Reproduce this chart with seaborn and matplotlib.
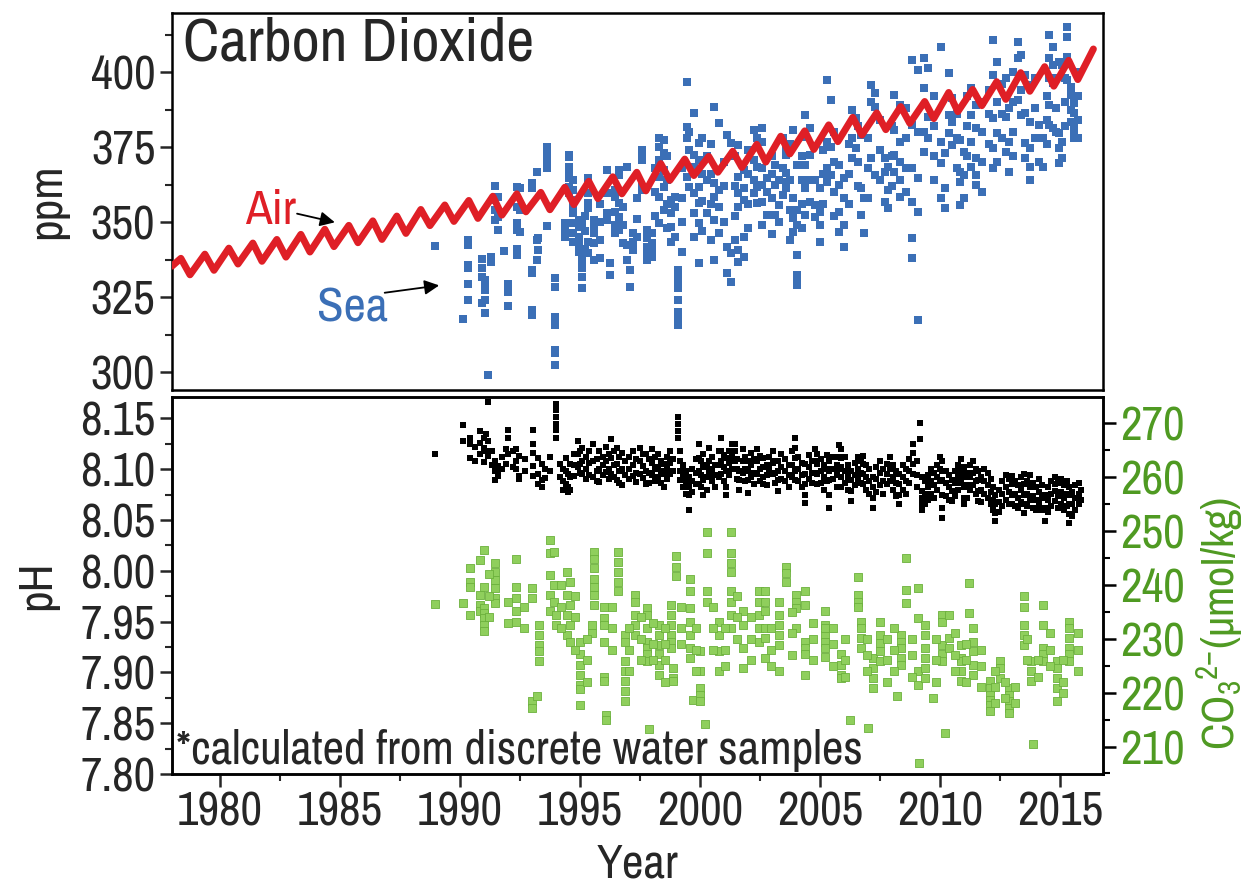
import numpy as np
import pandas as pd
import matplotlib
matplotlib.use("Agg")
import matplotlib.pyplot as plt
import seaborn as sns
from matplotlib import font_manager
from matplotlib.ticker import MultipleLocator, FormatStrFormatter

# --- Air CO2 (Mauna Loa style seasonal cycle): start, yearly May peak / Sep trough, end
air_start = (1978.0, 335.3)
air_years = list(range(1978, 2016))
air_peak = [337.9, 339.3, 341.3, 343.0, 344.2, 345.9, 347.6, 348.9, 350.4, 352.0,
            354.2, 355.7, 357.2, 358.6, 359.4, 359.9, 361.6, 363.6, 365.1, 366.6,
            369.5, 371.0, 371.9, 373.6, 375.9, 378.6, 380.4, 382.4, 384.9, 386.4,
            388.5, 390.2, 393.2, 394.2, 396.8, 399.8, 401.8, 403.9]
air_trough = [332.4, 333.9, 336.0, 336.9, 338.3, 340.0, 341.8, 343.1, 344.2, 346.2,
              348.8, 350.2, 351.2, 352.3, 353.4, 354.1, 355.8, 357.8, 359.4, 360.4,
              363.9, 365.5, 366.6, 368.2, 370.0, 372.7, 374.2, 376.8, 379.0, 380.8,
              382.9, 384.5, 386.8, 388.8, 390.9, 393.6, 395.3, 397.5]
air_end = (2016.4, 407.7)

# --- Sea surface pCO2 (ppm), grouped by cruise time
sea_time = [1988.96, 1990.14, 1990.35, 1990.90, 1991.05, 1991.18, 1991.28, 1991.45, 1991.60, 1991.83,
            1992.00, 1992.36, 1992.50, 1992.99, 1993.20, 1993.26, 1993.61, 1993.95, 1994.38, 1994.55,
            1994.70, 1994.95, 1995.07, 1995.35, 1995.60, 1996.11, 1996.25, 1996.45, 1996.62, 1996.95,
            1997.08, 1997.20, 1997.57, 1997.80, 1998.00, 1998.30, 1998.50, 1998.80, 1998.95, 1999.07,
            1999.45, 1999.55, 1999.75, 1999.95, 2000.60, 2000.80, 2001.15, 2001.30, 2001.60, 2001.85,
            2002.25, 2002.40, 2002.60, 2002.80, 2003.15, 2003.30, 2003.60, 2003.90, 2004.05, 2004.40,
            2004.60, 2004.80, 2005.00, 2005.30, 2005.45, 2005.80, 2006.00, 2006.35, 2006.50, 2006.70,
            2006.85, 2007.15, 2007.30, 2007.70, 2007.85, 2008.10, 2008.35, 2008.85, 2009.10, 2009.35,
            2009.50, 2010.05, 2010.20, 2010.40, 2010.50, 2010.85, 2011.00, 2011.30, 2011.50, 2012.20,
            2012.40, 2012.75, 2012.90, 2013.25, 2013.40, 2013.55, 2013.75, 2014.15, 2014.30, 2014.55,
            2014.70, 2014.95, 2015.10, 2015.30, 2015.45, 2015.60,
            1995.20, 1995.85, 1996.80, 1997.40, 1998.15, 1998.65, 1999.25, 2000.10, 2000.30, 2000.45,
            2001.00, 2001.45, 2002.00, 2003.00, 2003.45, 2003.75, 2004.25, 2005.15, 2005.60, 2006.20,
            2006.60, 2007.00, 2007.50, 2008.00, 2008.60, 2009.75, 2010.70, 2011.15, 2011.75, 2012.05,
            2012.60, 2013.05, 2013.95, 2014.45, 2014.85, 2015.20, 2015.75]
sea_ppm = [[342.1], [317.6], [344.0, 342.3, 335.7, 334.6, 329.3, 324.0], [337.6, 334.6, 331.8, 322.9],
           [330.7, 327.9, 327.3, 324.0, 319.6], [299.0], [338.4, 336.8], [362.0, 357.3, 354.0, 350.7],
           [358.4, 351.8, 347.3], [340.4],
           [329.3, 326.8, 322.0], [361.8, 355.1, 349.8, 347.3, 340.9, 339.0], [361.2, 354.0, 346.8],
           [362.9, 361.2, 334.0, 332.9, 320.7, 319.0], [366.8, 344.0, 337.3], [344.6, 340.7],
           [374.9, 372.3, 369.6, 367.9, 348.7], [331.2, 328.4, 318.4, 315.7, 307.3, 306.2, 302.3],
           [349.6, 347.3, 345.1], [372.3, 371.8, 368.4, 367.3, 364.6, 361.8, 359.6],
           [364.0, 360.7, 357.3, 355.1, 352.9, 349.6, 346.2, 343.4], [350.7, 348.4, 345.1, 342.3, 340.1],
           [349.6, 338.4, 336.2, 334.6, 331.8, 327.9], [364.6, 359.6, 356.2, 354.6, 343.4, 339.6],
           [350.7, 348.4, 346.2, 342.9, 337.3], [367.3, 359.6, 352.9, 350.7], [336.2, 332.3],
           [360.7, 358.4, 353.4, 349.0, 346.2], [367.3, 365.7, 356.2, 351.8, 348.4, 347.3],
           [368.4, 342.3, 337.3],
           [334.0, 328.4], [346.2, 343.4, 340.7], [374.0, 372.3, 370.7, 361.8, 360.7],
           [347.3, 344.6, 341.8, 339.6, 337.3], [346.2, 342.9, 340.7, 338.4],
           [377.9, 375.1, 370.7, 365.1, 358.4, 349.6], [377.3, 372.9, 367.3, 361.8, 354.0],
           [357.3, 352.9, 348.4, 343.4], [358.4, 355.1, 345.1],
           [334.0, 331.8, 329.6, 327.9, 324.0, 320.1, 317.9, 315.7],
           [396.8, 381.8, 377.9, 365.1], [380.1, 374.0, 361.8], [386.2, 372.3, 368.4, 359.6, 352.9, 345.1],
           [376.2, 370.7, 361.8, 356.2, 349.6, 336.2], [388.4, 362.9, 358.4, 350.7, 337.3],
           [382.9, 360.7, 355.1, 346.2], [379.0, 341.8, 332.9], [376.2, 339.6, 330.1],
           [375.7, 365.1, 359.6, 355.1, 340.7, 336.8], [367.3, 361.2, 357.3, 345.1, 338.4],
           [380.7, 370.7, 364.0, 359.6], [377.9, 368.4, 361.8, 356.2],
           [381.2, 376.8, 367.9, 362.3, 356.8, 349.0], [364.6, 360.1, 352.3], [369.0, 362.3, 352.3],
           [364.0, 355.7, 350.1], [374.6, 372.3, 366.2, 363.4, 361.2], [380.7, 357.9, 351.2, 346.8],
           [369.0, 354.0, 349.0, 339.0, 332.3, 330.1, 329.0], [385.7, 378.4, 369.0, 361.2, 352.3],
           [381.2, 372.3, 364.0, 356.8], [364.0, 355.7, 351.8], [361.2, 353.4, 349.0, 343.4],
           [397.3, 376.8, 367.9, 363.4], [390.7, 375.1, 365.7], [369.0, 362.3, 353.4, 346.8],
           [364.6, 357.9, 349.0, 341.8], [387.3, 377.9, 371.2], [384.6, 374.6], [379.0, 361.2, 352.3],
           [357.9, 346.2], [395.7, 390.1, 371.2], [392.9, 388.4, 365.7], [371.2, 366.8, 356.8],
           [368.4, 360.7, 354.6], [392.3, 380.7, 372.3, 366.8], [389.0, 376.8, 370.1, 364.0, 358.4],
           [404.0, 382.3, 367.9, 356.8, 344.6, 337.9], [400.7, 380.1, 364.6, 353.4, 317.3],
           [404.6, 394.6, 380.1, 373.4],
           [401.2, 385.1, 377.9], [408.4, 376.8, 369.6, 357.9], [372.9, 361.2, 354.6],
           [399.6, 385.7, 379.6], [391.2, 383.4, 375.7], [377.3, 366.8, 363.4, 355.7],
           [373.4, 365.7, 357.9], [394.6, 385.7, 376.8, 368.4], [389.0, 381.2, 371.2, 365.7, 362.3],
           [410.7, 399.0, 384.6, 374.6, 367.9],
           [403.4, 390.1, 379.6, 370.1], [397.9, 385.1, 373.4], [387.9, 376.8, 366.8],
           [410.1, 404.6, 390.7], [405.7, 394.0, 385.7], [399.0, 386.2, 376.2, 371.2],
           [395.7, 383.4, 374.6, 368.4, 364.0], [382.3, 370.1], [377.9, 368.4],
           [412.3, 404.6, 397.9, 389.0, 382.3],
           [408.4, 402.3, 396.2, 381.2], [403.4, 379.6, 374.6, 369.6], [402.3, 376.8, 371.2],
           [415.1, 411.8, 405.1, 397.3], [395.1, 392.3, 387.3, 383.4],
           [389.6, 386.2, 381.2, 379.0, 377.9],
           [352.0, 347.0, 341.0], [356.0, 350.0, 344.0, 338.0], [355.0, 349.0, 343.0],
           [358.0, 351.0, 345.0], [368.0, 360.0, 352.0], [372.0, 364.0, 356.0, 348.0],
           [368.0, 358.0, 350.0, 340.0], [378.0, 366.0, 357.0, 347.0], [372.0, 364.0, 353.0],
           [376.0, 366.0, 356.0, 344.0],
           [370.0, 362.0, 350.0], [372.0, 362.0, 352.0, 344.0], [374.0, 366.0, 356.0, 348.0],
           [372.0, 366.0, 358.0, 346.0], [378.0, 368.0, 359.0], [376.0, 364.0, 354.0, 344.0],
           [372.0, 364.0, 356.0, 348.0], [374.0, 366.0, 356.0], [380.0, 370.0, 360.0, 352.0],
           [376.0, 366.0, 356.0],
           [382.0, 370.0, 362.0], [378.0, 368.0, 358.0], [384.0, 374.0, 364.0], [382.0, 372.0, 362.0],
           [388.0, 378.0, 368.0, 360.0], [392.0, 382.0, 372.0, 364.0], [386.0, 378.0, 368.0],
           [392.0, 382.0, 372.0], [390.0, 380.0, 370.0, 360.0], [394.0, 386.0, 376.0],
           [396.0, 386.0, 378.0], [400.0, 390.0, 380.0, 372.0], [398.0, 388.0, 378.0],
           [392.0, 384.0, 376.0], [398.0, 388.0, 380.0], [398.0, 390.0, 382.0],
           [400.0, 392.0, 384.0, 378.0]]

# --- Seawater pH, grouped by cruise time
ph_time = [1988.96, 1990.14, 1990.40, 1990.62, 1990.85, 1991.00, 1991.10, 1991.18, 1991.32, 1991.45,
           1991.60, 1991.75, 1991.90, 1992.00, 1992.20, 1992.35, 1992.45, 1992.70, 1993.05, 1993.25,
           1993.40, 1993.55, 1993.75, 1994.00, 1994.15, 1994.30, 1994.40, 1994.50, 1994.60, 1994.75,
           1994.90, 1995.00, 1995.10, 1995.25, 1995.40, 1995.55, 1995.70, 1995.80, 1995.95, 1996.10,
           1996.20, 1996.30, 1996.42, 1996.55, 1996.65, 1996.75, 1996.90, 1997.05, 1997.20, 1997.35,
           1997.50, 1997.62, 1997.75, 1997.88, 1998.00, 1998.12, 1998.25, 1998.38, 1998.50, 1998.62,
           1998.75, 1998.88, 1999.10, 1999.18, 1999.30, 1999.42, 1999.55, 1999.68, 1999.82, 1999.95,
           2000.05, 2000.15, 2000.28, 2000.40, 2000.52, 2000.65, 2000.78, 2000.90, 2001.00, 2001.10,
           2001.22, 2001.35, 2001.45, 2001.55, 2001.65, 2001.78, 2001.90, 2002.00, 2002.12, 2002.25,
           2002.38, 2002.50, 2002.65, 2002.78, 2002.90, 2003.05, 2003.15, 2003.25, 2003.40, 2003.55,
           2003.70, 2003.85, 2003.95, 2004.10, 2004.25, 2004.40, 2004.55, 2004.68, 2004.80, 2004.90,
           2005.05, 2005.18, 2005.30, 2005.40, 2005.55, 2005.70, 2005.80, 2005.90, 2006.05, 2006.18,
           2006.30, 2006.45, 2006.58, 2006.70, 2006.80, 2006.92, 2007.05, 2007.20, 2007.35, 2007.50,
           2007.65, 2007.80, 2007.92, 2008.05, 2008.18, 2008.30, 2008.45, 2008.58, 2008.72, 2008.90,
           2009.05, 2009.17, 2009.25, 2009.38, 2009.50, 2009.62, 2009.75, 2009.88, 2010.00, 2010.10,
           2010.25, 2010.38, 2010.50, 2010.62, 2010.75, 2010.88, 2011.00, 2011.12, 2011.25, 2011.38,
           2011.50, 2011.60, 2011.72, 2011.85, 2012.00, 2012.12, 2012.22, 2012.30, 2012.45, 2012.60,
           2012.75, 2012.88, 2013.00, 2013.12, 2013.25, 2013.38, 2013.50, 2013.62, 2013.75, 2013.88,
           2014.00, 2014.12, 2014.25, 2014.40, 2014.52, 2014.65, 2014.80, 2014.92, 2015.05, 2015.18,
           2015.30, 2015.40, 2015.52, 2015.65, 2015.78, 2015.90]
ph_val = [[8.115], [8.143, 8.128], [8.131, 8.125, 8.111], [8.122, 8.108], [8.138, 8.126, 8.115],
          [8.131, 8.121, 8.107], [8.135, 8.118], [8.166, 8.128, 8.113], [8.118, 8.104],
          [8.108, 8.098, 8.089],
          [8.103, 8.093, 8.097], [8.112, 8.100], [8.120, 8.105], [8.139, 8.131, 8.115], [8.118, 8.102],
          [8.120, 8.108, 8.100], [8.113, 8.093, 8.090], [8.110, 8.098],
          [8.139, 8.125, 8.116, 8.103, 8.093], [8.111, 8.095, 8.085],
          [8.105, 8.089, 8.082], [8.100, 8.091], [8.112, 8.098],
          [8.164, 8.158, 8.151, 8.144, 8.139, 8.131], [8.105, 8.092], [8.100, 8.088, 8.080],
          [8.111, 8.098, 8.085], [8.095, 8.082, 8.078], [8.105, 8.092, 8.080], [8.115, 8.104, 8.093],
          [8.128, 8.115, 8.102], [8.118, 8.105, 8.096], [8.121, 8.108, 8.095], [8.112, 8.100, 8.090],
          [8.118, 8.106, 8.094], [8.125, 8.108, 8.092], [8.110, 8.098, 8.088], [8.118, 8.100, 8.087],
          [8.112, 8.104, 8.094], [8.122, 8.108, 8.097],
          [8.115, 8.100, 8.090], [8.130, 8.111, 8.095], [8.118, 8.104, 8.092], [8.121, 8.105, 8.089],
          [8.112, 8.098, 8.086], [8.116, 8.100, 8.084], [8.108, 8.094], [8.112, 8.100, 8.090],
          [8.118, 8.104, 8.093], [8.110, 8.096, 8.087],
          [8.121, 8.108, 8.095], [8.115, 8.103, 8.091], [8.115, 8.098, 8.085], [8.110, 8.096, 8.086],
          [8.120, 8.106, 8.094], [8.112, 8.100, 8.088], [8.115, 8.102, 8.092], [8.108, 8.098, 8.086],
          [8.105, 8.095, 8.082], [8.112, 8.100, 8.090],
          [8.118, 8.106, 8.095], [8.110, 8.098], [8.151, 8.144, 8.138, 8.131],
          [8.118, 8.108, 8.098, 8.089], [8.104, 8.092, 8.082], [8.098, 8.086, 8.076],
          [8.092, 8.082, 8.075, 8.060], [8.100, 8.088, 8.078], [8.110, 8.096, 8.085],
          [8.125, 8.111, 8.098, 8.085],
          [8.108, 8.094, 8.082], [8.115, 8.102, 8.089, 8.075], [8.104, 8.092, 8.080],
          [8.121, 8.108, 8.098, 8.092], [8.112, 8.100, 8.088], [8.104, 8.094, 8.082],
          [8.118, 8.104, 8.092], [8.131, 8.118, 8.108, 8.095], [8.114, 8.102, 8.088],
          [8.111, 8.098, 8.082, 8.075],
          [8.118, 8.106, 8.094], [8.125, 8.112, 8.100], [8.125, 8.118, 8.108], [8.110, 8.100, 8.090],
          [8.098, 8.089, 8.080], [8.120, 8.108, 8.096], [8.112, 8.100, 8.088],
          [8.108, 8.098, 8.089, 8.077], [8.116, 8.104, 8.092], [8.110, 8.096, 8.085],
          [8.120, 8.108, 8.095], [8.113, 8.100, 8.088], [8.111, 8.102, 8.092, 8.085],
          [8.104, 8.094, 8.084], [8.112, 8.100], [8.118, 8.106, 8.095], [8.108, 8.096, 8.086],
          [8.108, 8.098, 8.089, 8.079], [8.115, 8.102, 8.090], [8.110, 8.098, 8.088],
          [8.104, 8.094, 8.082], [8.118, 8.104, 8.092], [8.131, 8.121, 8.111, 8.098, 8.089],
          [8.112, 8.100, 8.088], [8.106, 8.094, 8.082], [8.105, 8.095, 8.085, 8.075, 8.067],
          [8.114, 8.102, 8.090], [8.108, 8.096, 8.086], [8.120, 8.108, 8.096],
          [8.115, 8.105, 8.095, 8.085],
          [8.110, 8.098, 8.086], [8.104, 8.092, 8.080], [8.114, 8.100, 8.088],
          [8.108, 8.098, 8.089, 8.075, 8.062], [8.112, 8.100, 8.090], [8.104, 8.094, 8.082],
          [8.124, 8.112, 8.100], [8.120, 8.111, 8.102, 8.092, 8.082], [8.112, 8.098, 8.086],
          [8.104, 8.092, 8.080],
          [8.098, 8.089, 8.079, 8.069], [8.106, 8.094, 8.084], [8.112, 8.100, 8.090],
          [8.108, 8.096, 8.086], [8.113, 8.105, 8.095, 8.085], [8.104, 8.092, 8.080],
          [8.100, 8.088, 8.076], [8.092, 8.082, 8.072, 8.062], [8.102, 8.090, 8.078],
          [8.108, 8.096, 8.084],
          [8.100, 8.088, 8.076], [8.105, 8.095, 8.085], [8.112, 8.100, 8.088], [8.104, 8.092, 8.080],
          [8.098, 8.086, 8.074], [8.095, 8.085, 8.075, 8.066], [8.104, 8.092, 8.080],
          [8.100, 8.088, 8.076], [8.110, 8.098, 8.086], [8.125, 8.116, 8.105, 8.095],
          [8.108, 8.094, 8.082], [8.145, 8.130], [8.092, 8.079, 8.072, 8.066, 8.060],
          [8.088, 8.076, 8.066], [8.094, 8.082, 8.070], [8.100, 8.088, 8.076], [8.096, 8.084, 8.072],
          [8.104, 8.092, 8.080], [8.112, 8.100, 8.088], [8.108, 8.098, 8.089, 8.075, 8.062, 8.052],
          [8.098, 8.086, 8.074], [8.094, 8.082, 8.070], [8.089, 8.079, 8.069], [8.098, 8.086, 8.074],
          [8.104, 8.092, 8.080], [8.110, 8.098, 8.086], [8.102, 8.092, 8.082, 8.072, 8.066],
          [8.096, 8.084, 8.072], [8.104, 8.092, 8.080], [8.108, 8.096, 8.084],
          [8.100, 8.088, 8.076], [8.098, 8.089, 8.079, 8.069], [8.092, 8.080, 8.068],
          [8.100, 8.088, 8.076], [8.096, 8.084, 8.072], [8.090, 8.078, 8.066], [8.082, 8.070, 8.060],
          [8.075, 8.066, 8.057, 8.049], [8.080, 8.068, 8.058], [8.088, 8.076, 8.064],
          [8.094, 8.082, 8.070], [8.090, 8.078, 8.066], [8.093, 8.085, 8.075, 8.066],
          [8.088, 8.076, 8.064], [8.084, 8.072, 8.062], [8.092, 8.080, 8.068],
          [8.095, 8.085, 8.075, 8.066, 8.057], [8.088, 8.076, 8.064], [8.094, 8.082, 8.070],
          [8.086, 8.074, 8.062],
          [8.082, 8.070, 8.060], [8.090, 8.078, 8.066], [8.084, 8.072, 8.060], [8.075, 8.062, 8.049],
          [8.082, 8.070, 8.058], [8.088, 8.076, 8.064], [8.092, 8.085, 8.079, 8.069],
          [8.086, 8.074, 8.062], [8.090, 8.078, 8.066], [8.084, 8.072, 8.060],
          [8.088, 8.076, 8.064], [8.082, 8.075, 8.066, 8.056, 8.047], [8.078, 8.066, 8.054],
          [8.084, 8.072, 8.060], [8.086, 8.076, 8.066], [8.080, 8.070]]

# --- Carbonate ion CO3 2- (umol/kg), grouped by cruise time
co3_time = [1988.96, 1990.14, 1990.40, 1990.85, 1991.00, 1991.45, 1992.00, 1992.35, 1993.00, 1993.20,
            1993.30, 1993.75, 1993.90, 1994.00, 1994.45, 1994.60, 1995.00, 1995.50, 1995.60, 1996.00,
            1996.10, 1996.60, 1996.90, 1997.30, 1997.80, 1997.90, 1998.30, 1998.80, 1998.90, 1999.00,
            1999.60, 1999.70, 2000.00, 2000.20, 2000.30, 2000.80, 2001.30, 2001.80, 2002.45, 2002.70,
            2003.30, 2003.60, 2004.00, 2004.40, 2005.20, 2005.90, 2006.25, 2006.60, 2006.70, 2007.00,
            2007.20, 2007.50, 2008.20, 2008.40, 2008.60, 2009.10, 2009.14, 2009.40, 2009.70, 2010.10,
            2010.20, 2010.40, 2010.90, 2011.20, 2011.40, 2012.10, 2012.50, 2012.90, 2013.50, 2013.80,
            2013.90, 2014.30, 2014.90, 2015.40,
            1991.20, 1992.65, 1994.20, 1994.80, 1995.30, 1996.35, 1997.05, 1997.55, 1998.05, 1998.55,
            1999.20, 1999.85, 2000.55, 2001.05, 2001.55, 2002.15, 2002.95, 2003.85, 2004.70, 2005.55,
            2006.05, 2006.95, 2007.80, 2008.10, 2008.85, 2009.85, 2010.65, 2011.10, 2011.70, 2012.30,
            2012.70, 2013.15, 2013.65, 2014.10, 2014.60, 2015.15, 2015.75]
co3_val = [[236.4], [236.6], [243.1, 240.6, 239.7, 234.4], [244.6, 238.2, 236.3, 235.1],
           [246.5, 239.7, 235.7, 234.8, 233.8, 232.6, 231.4], [244.0, 242.5, 240.9, 239.4, 237.5, 236.6],
           [236.9, 232.9], [244.8, 239.7, 237.5, 235.1, 233.2], [239.4, 237.5, 218.4, 217.2], [219.3],
           [232.6, 230.8, 228.9, 227.7, 225.8], [248.3, 245.9, 241.9, 238.2, 235.1], [246.2, 240.0, 236.9],
           [234.4, 232.6], [242.5, 238.2, 234.4, 230.8], [240.6, 236.3, 232.6, 229.5],
           [229.5, 227.1, 225.2, 223.3, 221.5, 220.6, 217.8], [232.6, 231.1],
           [246.2, 244.9, 243.1, 241.2, 239.7, 238.2, 236.3], [236.0, 233.8, 232.6, 229.5, 223.0, 222.1],
           [215.9, 215.0], [246.2, 244.3, 242.5, 240.6, 238.8],
           [230.8, 229.5, 225.8, 224.0, 222.1, 220.3, 218.4], [238.2, 236.9, 234.4, 232.6, 230.8],
           [235.7, 234.4, 232.0, 229.5, 228.3, 227.1, 225.8], [213.2],
           [232.6, 230.8, 228.9, 227.1, 225.2, 223.3], [236.3, 234.4, 232.6, 230.8, 229.5, 228.3],
           [224.6, 222.7, 222.1], [245.3, 243.4, 241.6],
           [241.2, 238.8, 235.7, 233.2, 230.8, 228.3, 226.4], [218.7],
           [227.7, 224.0, 220.9, 219.6, 218.4], [214.1], [249.9, 245.9, 238.8, 236.9],
           [233.2, 230.8, 227.7, 224.0], [249.9, 245.9, 244.0, 242.5, 238.8, 236.9, 234.4, 232.0],
           [235.1, 232.6, 228.3, 224.6], [238.8, 236.9, 234.4, 232.0, 229.5],
           [238.8, 236.9, 235.1, 232.0, 230.1, 226.4],
           [236.9, 234.4, 232.6, 230.8, 228.9, 224.0], [243.4, 242.2, 240.6], [238.2, 236.9, 235.7, 232.0],
           [229.5, 228.3, 227.1, 223.3, 238.8, 236.3], [235.1, 232.6, 230.8, 229.5, 228.3, 226.7, 232.0],
           [227.1, 225.2, 223.3, 222.7], [215.0], [241.5, 238.2, 236.9, 236.0], [233.2, 232.0, 230.1, 228.3],
           [213.5],
           [226.4, 224.6, 222.7, 220.9], [233.2, 230.8, 229.2, 227.7, 225.8], [219.3],
           [230.8, 229.5, 228.3, 226.4, 225.2], [245.0, 239.1, 236.6], [239.4, 233.8, 224.0, 221.5], [207.0],
           [232.6, 230.8, 228.3, 226.4, 224.6, 222.7], [219.0], [234.4, 233.2, 228.9, 227.1, 225.8],
           [212.5], [234.4, 230.1, 228.3], [228.9, 226.4, 225.8, 224.0, 222.1], [234.8, 240.3],
           [232.0, 229.5, 227.7, 225.2, 223.3], [222.1, 220.9, 219.6, 218.7, 217.8, 216.6],
           [225.8, 224.6, 222.7], [220.9, 219.6, 218.4, 217.2, 216.3], [237.9, 236.0, 232.6, 230.8, 228.9],
           [225.8, 224.0, 222.1],
           [210.4], [228.3, 227.1, 225.8, 232.6, 236.3], [225.8, 224.6, 222.7, 220.9, 218.4],
           [233.2, 232.0, 230.1, 228.3, 227.1, 225.8],
           [242.0, 238.0, 234.0], [236.0, 232.0], [240.0, 236.0, 232.0], [238.0, 234.0, 228.0],
           [230.0, 226.0, 222.0], [236.0, 232.0, 228.0], [232.0, 228.0, 224.0], [234.0, 230.0, 226.0],
           [233.0, 229.0, 226.0], [232.0, 229.0, 226.0, 222.0],
           [236.0, 232.0, 229.0], [232.0, 228.0, 224.0], [236.0, 232.0, 228.0], [232.0, 228.0, 225.0],
           [238.0, 234.0, 230.0], [234.0, 230.0, 226.0], [232.0, 228.0, 225.0], [235.0, 231.0, 227.0],
           [233.0, 230.0, 226.0], [232.0, 229.0, 225.0],
           [230.0, 226.0, 223.0], [230.0, 227.0, 224.0], [230.0, 226.0, 222.0], [232.0, 228.0, 224.0],
           [230.0, 227.0, 223.0], [230.0, 226.0, 222.0], [231.0, 227.0, 224.0], [229.0, 226.0, 222.0],
           [228.0, 225.0, 221.0], [224.0, 221.0, 218.0],
           [222.0, 219.0], [221.0, 218.0], [230.0, 226.0], [226.0, 223.0], [231.0, 228.0, 225.0],
           [226.0, 222.0, 220.0], [231.0, 228.0, 224.0]]

RED = "#df1f26"
BLUE = "#3b6fb6"
GREEN_TXT = "#4f9a22"
GREEN_FILL = "#8fcf5c"
GREEN_EDGE = "#6cb13c"


def explode(times, groups, name):
    rows = [(t, v) for t, vals in zip(times, groups) for v in vals]
    return pd.DataFrame(rows, columns=["year", name])


air_t = [air_start[0]]
air_v = [air_start[1]]
for y, p, tr in zip(air_years, air_peak, air_trough):
    air_t += [y + 0.37, y + 0.75]
    air_v += [p, tr]
air_t.append(air_end[0])
air_v.append(air_end[1])
air = pd.DataFrame({"year": air_t, "ppm": air_v})

sea = explode(sea_time, sea_ppm, "ppm")
ph = explode(ph_time, ph_val, "ph")
co3 = explode(co3_time, co3_val, "co3")

sns.set_style("ticks")

# look for a narrow sans face (the original uses an Arial Narrow look)
fonts = font_manager.fontManager.ttflist
narrow = [f.name for f in fonts if ("Narrow" in f.name or "Condensed" in f.name)]
cond = [f.name for f in fonts if str(f.stretch) in ("condensed", "semi-condensed", "extra-condensed")]
if narrow:
    main_font = narrow[0]
    FS = 34
elif cond:
    main_font = cond[0]
    plt.rcParams["font.stretch"] = "condensed"
    FS = 34
else:
    main_font = "Liberation Sans"
    FS = 29
plt.rcParams["font.family"] = [main_font, "DejaVu Sans"]
plt.rcParams["mathtext.fontset"] = "custom"
plt.rcParams["mathtext.rm"] = main_font
plt.rcParams["mathtext.it"] = main_font
plt.rcParams["axes.linewidth"] = 1.8

fig = plt.figure(figsize=(12.49, 8.90), dpi=100)
ax1 = fig.add_axes([0.1377, 0.5618, 0.7454, 0.4236])
ax2 = fig.add_axes([0.1377, 0.1303, 0.7454, 0.4236], sharex=ax1)
ax3 = ax2.twinx()

# top panel
sns.scatterplot(data=sea, x="year", y="ppm", ax=ax1, marker="s", s=26, color=BLUE,
                linewidth=0, zorder=2)
sns.lineplot(data=air, x="year", y="ppm", ax=ax1, color=RED, linewidth=5, zorder=3)
ax1.set_ylim(294, 419.7)
ax1.yaxis.set_major_locator(MultipleLocator(25))
ax1.yaxis.set_minor_locator(MultipleLocator(12.5))
ax1.set_ylabel("ppm", fontsize=FS, labelpad=16)
ax1.set_xlabel("")
ax1.text(0.012, 0.99, "Carbon Dioxide", transform=ax1.transAxes, ha="left", va="top",
         fontsize=FS + 10)
ax1.text(1982.1, 354, "Air", color=RED, fontsize=FS + 1, ha="center", va="center")
ax1.annotate("", xy=(1984.9, 349.7), xytext=(1983.1, 353.0),
             arrowprops=dict(arrowstyle="-|>", color="black", lw=1.3, mutation_scale=22))
ax1.text(1985.5, 321.3, "Sea", color=BLUE, fontsize=FS + 1, ha="center", va="center")
ax1.annotate("", xy=(1989.25, 329.0), xytext=(1986.75, 326.3),
             arrowprops=dict(arrowstyle="-|>", color="black", lw=1.3, mutation_scale=22))

# bottom panel
sns.scatterplot(data=co3, x="year", y="co3", ax=ax3, marker="s", s=26, color=GREEN_FILL,
                edgecolor=GREEN_EDGE, linewidth=0.6, zorder=2)
sns.scatterplot(data=ph, x="year", y="ph", ax=ax2, marker="s", s=20, color="black",
                linewidth=0, zorder=3)
ax2.set_zorder(ax3.get_zorder() + 1)
ax2.patch.set_visible(False)
ax2.set_ylim(7.80, 8.171)
ax2.yaxis.set_major_locator(MultipleLocator(0.05))
ax2.yaxis.set_minor_locator(MultipleLocator(0.025))
ax2.yaxis.set_major_formatter(FormatStrFormatter("%.2f"))
ax3.set_ylim(204.9, 274.9)
ax3.yaxis.set_major_locator(MultipleLocator(10))
ax3.yaxis.set_minor_locator(MultipleLocator(5))
ax2.set_xlim(1978.0, 2016.8)
ax2.xaxis.set_major_locator(MultipleLocator(5))
ax2.xaxis.set_minor_locator(MultipleLocator(2.5))
ax2.set_ylabel("pH", fontsize=FS, labelpad=16)
ax2.set_xlabel("Year", fontsize=FS, labelpad=6)
ax3.set_ylabel(r"CO$_3$$^{2\mathrm{-}}$(µmol/kg)", fontsize=FS - 2, color=GREEN_TXT)
ax3.yaxis.set_label_coords(1.098, 0.40)
ax2.text(0.004, 0.006, "*calculated from discrete water samples", transform=ax2.transAxes,
         ha="left", va="bottom", fontsize=FS)

for ax in (ax1, ax2, ax3):
    ax.tick_params(which="major", direction="out", length=9, width=1.8, labelsize=FS, pad=3)
    ax.tick_params(which="minor", direction="out", length=5, width=1.5)
    for s in ax.spines.values():
        s.set_visible(True)
        s.set_linewidth(1.8)
        s.set_color("black")
ax1.tick_params(axis="x", which="both", bottom=False, labelbottom=False)
ax3.tick_params(axis="y", which="both", colors="black", labelcolor=GREEN_TXT)
ax1.tick_params(axis="y", which="both", right=False)
ax2.tick_params(axis="x", which="both", top=False)

fig.savefig("out.png", dpi=100)
